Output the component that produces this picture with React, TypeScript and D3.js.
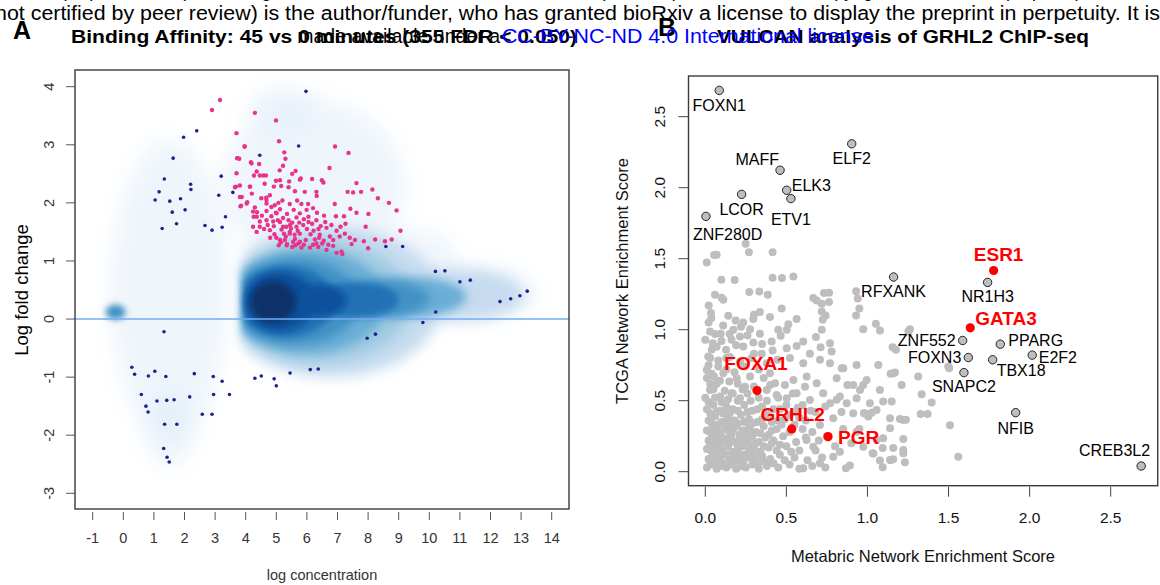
import React, { useEffect, useRef } from 'react';
import * as d3 from 'd3';

// ---------- Panel A: MA plot (log concentration vs log fold change) ----------
const maXTicks = d3.range(-1, 15);
const maYTicks = d3.range(-3, 5);

// significant sites (FDR < 0.05), pink
const sigSites: [number, number][] = [
  [3.16, 3.77], [2.9, 3.6], [4.3, 3.55], [4.99, 3.42], [3.7, 3.2], [5.09, 3.06], [3.96, 2.97], [6.92, 2.97],
  [7.36, 2.86], [5.26, 2.87], [5.3, 2.76], [3.72, 2.77], [3.79, 2.76], [4.17, 2.7], [4.44, 2.67], [5.22, 2.64],
  [5.11, 2.56], [6.74, 2.6], [5.63, 2.55], [5.52, 2.5], [3.7, 2.51], [5.77, 2.4], [5.8, 2.42], [6.17, 2.41],
  [4.27, 2.47], [4.46, 2.47], [4.66, 2.47], [4.99, 2.38], [5.12, 2.39], [5.42, 2.37], [6.49, 2.39], [6.54, 2.35],
  [7.62, 2.34], [8.14, 2.23], [7.77, 2.19], [7.33, 2.19], [7.51, 2.18], [3.65, 2.27], [3.81, 2.3], [4.14, 2.28],
  [4.62, 2.33], [4.92, 2.28], [5.16, 2.29], [5.4, 2.27], [5.61, 2.2], [5.93, 2.19], [6.31, 2.19], [6.32, 2.12],
  [8.32, 2.08], [8.68, 2.0], [8.93, 1.87], [3.87, 2.1], [4.2, 2.16], [4.51, 2.08], [4.67, 2.09], [4.79, 2.13],
  [3.83, 1.94], [4.05, 2.01], [4.3, 1.92], [4.68, 1.99], [4.95, 1.96], [5.07, 2.0], [5.2, 2.04], [5.44, 1.98],
  [5.68, 2.04], [5.82, 1.98], [6.04, 1.98], [6.33, 1.83], [6.56, 1.78], [6.91, 1.98], [6.95, 1.77], [7.21, 1.77],
  [7.42, 1.9], [7.62, 1.83], [8.01, 1.81], [7.26, 1.64], [4.26, 1.76], [4.37, 1.84], [4.53, 1.78], [4.68, 1.7],
  [4.84, 1.77], [4.99, 1.83], [5.12, 1.67], [5.22, 1.74], [5.35, 1.81], [5.52, 1.66], [5.66, 1.75], [5.77, 1.82],
  [5.9, 1.72], [6.05, 1.76], [6.17, 1.64], [6.31, 1.7], [6.45, 1.6], [6.64, 1.57], [6.8, 1.62], [6.97, 1.52],
  [7.1, 1.59], [7.24, 1.47], [7.4, 1.4], [7.57, 1.36], [7.86, 1.34], [7.92, 1.59], [8.23, 1.37], [8.55, 1.34],
  [8.77, 1.37], [9.06, 1.52], [5.08, 1.27], [5.35, 1.29], [5.62, 1.27], [5.82, 1.23], [6.1, 1.23], [6.37, 1.24],
  [6.64, 1.19], [6.86, 1.26], [7.13, 1.16], [4.46, 1.59], [4.79, 1.53], [4.94, 1.46], [5.17, 1.54], [5.31, 1.42],
  [5.44, 1.5], [5.61, 1.38], [5.77, 1.47], [5.96, 1.36], [6.12, 1.46], [6.26, 1.37], [6.42, 1.45], [6.55, 1.35],
  [6.75, 1.42], [4.68, 1.86], [4.92, 1.6], [5.33, 1.59], [5.66, 1.59], [5.12, 1.89], [5.57, 1.88], [5.99, 1.88],
  [6.2, 1.91], [4.46, 1.68], [4.24, 1.59], [4.36, 1.5], [5.12, 1.36], [5.77, 1.33], [6.31, 1.3], [6.86, 1.36],
  [7.07, 1.42], [6.97, 1.14], [7.16, 1.12], [8.0, 1.22], [7.46, 1.29], [3.97, 2.97], [3.73, 2.77], [3.68, 2.28],
  [3.81, 2.1], [3.85, 1.95], [4.19, 2.68], [4.36, 2.54], [4.14, 2.28], [4.57, 2.47], [4.03, 1.99], [4.24, 1.85],
  [4.36, 1.76], [4.68, 2.05], [4.84, 1.93], [5.01, 1.82], [5.22, 1.59], [5.44, 1.47], [5.55, 1.33], [5.34, 1.27],
  [5.0, 1.4], [5.25, 1.47], [5.48, 1.56], [5.7, 1.52], [5.88, 1.62], [6.0, 1.55], [6.22, 1.52], [6.38, 1.55],
  [5.05, 1.7], [5.4, 1.7], [5.6, 1.45], [5.9, 1.28], [6.5, 1.3], [6.7, 1.28], [4.8, 1.4], [4.6, 1.55],
  [5.15, 1.32], [6.05, 1.67], [6.6, 1.67], [5.45, 1.62], [5.28, 1.36], [5.52, 1.24], [5.72, 1.3], [6.2, 1.28],
  [4.9, 1.68], [5.75, 1.66], [6.4, 1.4], [4.72, 1.62],
];

// outlying non-significant sites drawn over the smoothed density, navy
const outlierSites: [number, number][] = [
  [2.4, 3.24], [1.97, 3.13], [1.63, 2.77], [1.34, 2.41], [1.17, 2.19], [1.04, 2.05], [1.52, 2.03], [1.87, 2.07],
  [2.2, 2.32], [2.21, 2.23], [1.6, 1.84], [2.02, 1.88], [1.74, 1.64], [1.27, 1.56], [2.67, 1.61], [2.9, 1.53],
  [3.23, 1.58], [3.34, 1.76], [3.12, 2.13], [3.2, 2.46], [3.58, 2.18], [4.46, 2.82], [5.73, 2.98], [5.97, 3.92],
  [8.58, 1.25], [9.13, 1.25], [10.2, 0.82], [10.51, 0.83], [11.0, 0.64], [11.34, 0.67], [12.31, 0.3], [12.66, 0.35],
  [12.96, 0.4], [13.2, 0.48], [10.21, 0.12], [9.79, -0.06], [7.97, -0.33], [8.24, -0.26], [4.3, -1.02], [4.51, -0.98],
  [4.93, -1.03], [5.0, -1.15], [5.45, -0.93], [6.11, -0.87], [6.37, -0.86], [1.33, -0.22], [0.28, -0.83], [0.37, -0.95],
  [0.82, -0.98], [1.03, -0.9], [1.39, -0.99], [2.32, -0.94], [2.94, -0.99], [3.23, -1.07], [0.59, -1.3], [0.74, -1.5],
  [0.81, -1.6], [1.1, -1.41], [1.42, -1.4], [1.66, -1.39], [2.17, -1.34], [2.95, -1.3], [3.47, -1.3], [2.58, -1.64],
  [2.9, -1.64], [1.35, -1.81], [1.75, -1.81], [1.32, -2.23], [1.43, -2.38], [1.5, -2.46],
];

// smoothed density of all sites: [x, y, spreadX, spreadY, Blues shade, starts at concentration cut-off]
const densityBlobs: [number, number, number, number, number, boolean][] = [
  [1.5, 0.5, 1.9, 2.6, 1, false],
  [1.5, -1.9, 0.8, 0.65, 1, false],
  [6.2, 2.3, 3.0, 1.45, 1, false],
  [5.2, 3.6, 1.1, 0.4, 1, false],
  [11.6, 0.45, 1.9, 0.45, 1, false],
  [9.5, 1.0, 1.4, 0.55, 1, false],
  [6.8, 0.3, 3.6, 1.3, 2, true],
  [10.8, 0.42, 2.3, 0.45, 2, true],
  [6.4, 0.3, 3.0, 1.05, 3, true],
  [6.0, 0.3, 2.6, 0.9, 4, true],
  [9.3, 0.38, 1.9, 0.35, 4, true],
  [5.6, 0.3, 2.1, 0.75, 5, true],
  [8.3, 0.35, 1.7, 0.32, 5, true],
  [-0.25, 0.12, 0.33, 0.13, 5, false],
  [5.3, 0.3, 1.6, 0.62, 6, true],
  [7.6, 0.33, 1.4, 0.3, 6, true],
  [5.1, 0.3, 1.15, 0.52, 7, true],
  [6.4, 0.32, 0.9, 0.28, 7, true],
  [4.9, 0.3, 0.75, 0.36, 8, true],
];
const concentrationCutoff = 3.95;

// ---------- Panel B: VULCAN enrichment ----------
const enrichTicks = [0, 0.5, 1, 1.5, 2, 2.5];

const geneNames = ['FOXN1', 'ELF2', 'MAFF', 'ELK3', 'ETV1', 'LCOR', 'ZNF280D', 'RFXANK', 'ESR1', 'NR1H3', 'GATA3',
  'ZNF552', 'FOXN3', 'SNAPC2', 'PPARG', 'TBX18', 'E2F2', 'NFIB', 'CREB3L2', 'FOXA1', 'GRHL2', 'PGR'];
const geneMetabric = [0.086, 0.903, 0.461, 0.502, 0.528, 0.224, 0.004, 1.161, 1.778, 1.741, 1.634,
  1.587, 1.622, 1.595, 1.819, 1.772, 2.016, 1.914, 2.688, 0.319, 0.533, 0.757];
const geneTcga = [2.685, 2.309, 2.123, 1.982, 1.923, 1.953, 1.798, 1.371, 1.417, 1.333, 1.013,
  0.924, 0.804, 0.698, 0.898, 0.788, 0.821, 0.416, 0.04, 0.571, 0.301, 0.247];
const highlightGenes = ['ESR1', 'GATA3', 'FOXA1', 'GRHL2', 'PGR'];

// other transcription factors [metabric, tcga]
const otherTFs: [number, number][] = [
  [0.009, 1.474], [0.054, 1.526], [0.07, 1.528], [0.249, 1.605], [0.269, 1.545], [0.415, 1.545], [0.099, 1.352],
  [0.181, 1.35], [0.415, 1.366], [0.473, 1.364], [0.543, 1.375], [0.06, 1.246], [0.111, 1.211], [0.101, 1.225],
  [0.021, 1.171], [0.271, 1.265], [0.333, 1.269], [0.385, 1.246], [0.666, 1.223], [0.687, 1.206], [0.732, 1.258],
  [0.763, 1.26], [0.763, 1.195], [0.718, 1.183], [0.035, 1.117], [0.142, 1.098], [0.3, 1.105], [0.337, 1.124],
  [0.471, 1.15], [0.718, 1.128], [0.037, 1.082], [0.187, 1.065], [0.234, 1.051], [0.296, 1.075], [0.399, 1.089],
  [0.502, 0.999], [0.512, 1.039], [0.563, 1.075], [0.724, 1.07], [0.742, 1.1], [0.45, 0.999], [0.029, 0.987],
  [0.095, 0.971], [0.173, 0.999], [0.214, 0.952], [0.276, 1.004], [0.337, 0.971], [0.409, 0.917], [0.465, 0.957],
  [0.604, 0.917], [0.769, 0.905], [0.718, 0.999], [0.682, 0.948], [0.974, 1.004], [1.077, 0.994], [1.052, 1.042],
  [1.155, 0.877], [1.252, 0.987], [1.262, 1.004], [0.046, 0.905], [0.128, 0.858], [0.162, 0.929], [0.234, 0.882],
  [0.296, 0.91], [0.348, 0.83], [0.415, 0.853], [0.502, 0.87], [0.563, 0.886], [0.645, 0.83], [0.711, 0.877],
  [0.779, 0.846], [0.018, 0.811], [0.08, 0.783], [0.152, 0.807], [0.214, 0.776], [0.286, 0.8], [0.379, 0.764],
  [0.444, 0.788], [0.522, 0.8], [0.604, 0.764], [0.707, 0.788], [0.769, 0.764], [0.851, 0.729], [0.933, 0.752],
  [1.067, 0.752], [1.159, 0.694], [1.313, 0.67], [1.211, 0.611], [1.077, 0.576], [0.974, 0.611], [0.009, 0.717],
  [0.054, 0.67], [0.111, 0.694], [0.148, 0.635], [0.194, 0.658], [0.245, 0.599], [0.276, 0.67], [0.399, 0.694],
  [0.43, 0.623], [0.491, 0.611], [0.543, 0.646], [0.625, 0.67], [0.615, 0.599], [0.687, 0.623], [0.81, 0.658],
  [0.912, 0.611], [0.954, 0.576], [0.029, 0.576], [0.091, 0.529], [0.163, 0.552], [0.214, 0.517], [0.379, 0.576],
  [0.44, 0.541], [0.502, 0.517], [0.563, 0.552], [0.645, 0.505], [0.727, 0.552], [0.769, 0.482], [0.83, 0.529],
  [0.872, 0.482], [0.933, 0.517], [1.015, 0.482], [1.056, 0.435], [0.984, 0.412], [1.097, 0.494], [1.139, 0.376],
  [1.221, 0.364], [1.139, 0.306], [1.097, 0.235], [1.221, 0.153], [1.139, 0.082], [1.143, 0.689], [1.17, 0.698],
  [1.334, 0.546], [1.149, 0.494], [1.396, 0.487], [1.504, 0.729], [1.498, 0.741], [0.978, 0.412], [1.026, 0.416],
  [1.005, 0.388], [1.2, 0.372], [1.237, 0.365], [1.328, 0.407], [1.371, 0.407], [1.509, 0.327], [1.221, 0.231],
  [1.094, 0.167], [1.159, 0.167], [1.032, 0.13], [1.077, 0.078], [1.143, 0.082], [1.159, 0.087], [1.221, 0.13],
  [1.231, 0.066], [1.094, 0.031], [1.56, 0.106], [0.93, 1.27], [0.94, 1.22], [0.95, 1.15], [0.93, 1.1],
  [0.867, 0.024], [0.892, 0.043], [0.974, 0.176], [1.036, 0.129], [1.057, 0.223], [0.933, 0.282], [0.83, 0.141],
  [0.789, 0.106], [0.707, 0.059], [0.604, 0.024], [0.666, 0.176], [0.625, 0.223], [0.707, 0.329], [0.789, 0.376],
  [0.912, 0.411], [0.81, 0.506], [0.876, 0.611], [0.995, 0.646], [0.841, 0.729], [1.176, 0.858],
  [0.01, 0.03], [0.04, 0.05], [0.07, 0.02], [0.1, 0.04], [0.13, 0.03], [0.16, 0.05], [0.19, 0.02], [0.22, 0.04],
  [0.25, 0.03], [0.29, 0.05], [0.33, 0.02], [0.38, 0.04], [0.45, 0.03], [0.52, 0.05], [0.58, 0.02], [0.66, 0.04],
  [0.74, 0.03], [0.02, 0.09], [0.05, 0.11], [0.09, 0.08], [0.12, 0.12], [0.15, 0.09], [0.18, 0.11], [0.21, 0.08],
  [0.24, 0.12], [0.27, 0.1], [0.31, 0.08], [0.35, 0.11], [0.4, 0.09], [0.46, 0.12], [0.55, 0.1], [0.63, 0.08],
  [0.01, 0.16], [0.04, 0.14], [0.07, 0.17], [0.11, 0.15], [0.14, 0.18], [0.17, 0.14], [0.2, 0.16], [0.23, 0.18],
  [0.27, 0.15], [0.3, 0.17], [0.34, 0.14], [0.39, 0.17], [0.44, 0.15], [0.5, 0.18], [0.58, 0.15], [0.02, 0.22],
  [0.06, 0.24], [0.09, 0.21], [0.12, 0.23], [0.16, 0.25], [0.19, 0.21], [0.22, 0.24], [0.26, 0.22], [0.29, 0.25],
  [0.33, 0.21], [0.37, 0.24], [0.42, 0.22], [0.48, 0.25], [0.56, 0.21], [0.62, 0.24], [0.7, 0.22], [0.01, 0.29],
  [0.05, 0.31], [0.08, 0.28], [0.12, 0.3], [0.15, 0.27], [0.19, 0.32], [0.23, 0.29], [0.27, 0.31], [0.31, 0.28],
  [0.36, 0.32], [0.41, 0.29], [0.47, 0.33], [0.6, 0.3], [0.66, 0.28], [0.02, 0.36], [0.06, 0.39], [0.1, 0.35],
  [0.14, 0.38], [0.18, 0.36], [0.22, 0.4], [0.27, 0.37], [0.32, 0.35], [0.38, 0.39], [0.45, 0.36], [0.52, 0.4],
  [0.58, 0.38], [0.01, 0.44], [0.05, 0.47], [0.09, 0.43], [0.13, 0.46], [0.17, 0.44], [0.24, 0.47], [0.29, 0.43],
  [0.35, 0.46], [0.42, 0.44], [0.5, 0.47], [0.57, 0.45], [0.65, 0.43], [0.0, 0.52], [0.03, 0.62], [0.01, 0.66],
  [0.05, 0.58], [0.02, 0.75], [0.04, 0.86], [0.0, 0.93], [0.07, 0.62], [0.08, 0.74], [0.12, 0.57], [0.1, 0.49],
  [0.2, 0.5], [0.26, 0.55], [0.33, 0.52], [0.3, 0.6], [0.36, 0.66], [0.18, 0.7], [0.24, 0.74], [0.13, 0.8],
  [0.06, 0.97], [0.19, 0.89], [0.11, 1.03], [0.26, 0.96], [0.35, 0.9], [0.3, 0.83],
  [0.03, 0.07], [0.06, 0.06], [0.09, 0.13], [0.115, 0.06], [0.145, 0.12], [0.175, 0.07], [0.205, 0.13], [0.235, 0.07],
  [0.265, 0.13], [0.3, 0.12], [0.32, 0.06], [0.36, 0.07], [0.42, 0.06], [0.49, 0.08], [0.03, 0.19], [0.055, 0.2],
  [0.085, 0.19], [0.13, 0.2], [0.16, 0.21], [0.2, 0.19], [0.245, 0.2], [0.28, 0.19], [0.31, 0.2], [0.36, 0.18],
  [0.41, 0.2], [0.46, 0.19], [0.53, 0.14], [0.035, 0.27], [0.07, 0.26], [0.1, 0.25], [0.14, 0.31], [0.17, 0.29],
  [0.21, 0.26], [0.25, 0.27], [0.28, 0.28], [0.34, 0.27], [0.39, 0.26], [0.44, 0.3], [0.52, 0.28], [0.55, 0.33],
  [0.04, 0.34], [0.08, 0.33], [0.12, 0.35], [0.16, 0.33], [0.2, 0.34], [0.24, 0.35], [0.29, 0.34], [0.35, 0.37],
  [0.41, 0.35], [0.49, 0.37], [0.55, 0.42], [0.62, 0.36], [0.03, 0.41], [0.07, 0.42], [0.11, 0.41], [0.15, 0.41],
  [0.2, 0.43], [0.26, 0.42], [0.32, 0.44], [0.39, 0.42], [0.46, 0.44], [0.6, 0.47], [0.02, 0.49], [0.06, 0.52],
  [0.14, 0.51], [0.17, 0.55], [0.23, 0.58], [0.28, 0.5], [0.38, 0.5], [0.45, 0.52], [0.54, 0.55], [0.04, 0.69],
  [0.13, 0.72], [0.09, 0.64], [0.2, 0.62], [0.33, 0.72], [0.4, 0.61], [0.03, 0.8], [0.07, 0.88], [0.1, 0.92],
  [0.15, 0.97], [0.22, 1.02], [0.02, 1.05], [0.68, 0.15], [0.72, 0.1], [0.8, 0.18], [0.75, 0.25], [0.85, 0.3],
  [0.9, 0.2], [0.68, 0.42], [0.74, 0.46], [0.84, 0.42], [0.95, 0.3],
];

const font = '"Liberation Sans", Arial, Helvetica, sans-serif';

// label placement next to each gene point: [anchor, dx, dy] in px
const labelPlace: Record<string, [string, number, number]> = {
  FOXN1: ['middle', 0, 15], ELF2: ['middle', 0, 15], MAFF: ['end', -1, -11], ELK3: ['start', 5, -5],
  ETV1: ['middle', 0, 21], LCOR: ['middle', 0, 15], ZNF280D: ['start', -13, 18], RFXANK: ['middle', 0, 14.5],
  ESR1: ['middle', 5, -16], NR1H3: ['middle', 0, 14.5], GATA3: ['start', 5, -9], ZNF552: ['end', -7, 0],
  FOXN3: ['end', -7, 0], SNAPC2: ['middle', 0, 14], PPARG: ['start', 8, -3.5], TBX18: ['start', 4, 11],
  E2F2: ['start', 6.5, 2], NFIB: ['middle', 0, 15.5], CREB3L2: ['end', 9, -16], FOXA1: ['middle', -1, -27],
  GRHL2: ['middle', 1, -14], PGR: ['start', 10, 0.5],
};

export default function App() {
  const svgRef = useRef<SVGSVGElement>(null);

  useEffect(() => {
    const svg = d3.select(svgRef.current);
    svg.selectAll('*').remove();
    const defs = svg.append('defs');

    // blur filters for the density layers
    [3, 5, 7, 11].forEach(s => {
      defs.append('filter')
        .attr('id', `blur${s}`)
        .attr('x', '-50%').attr('y', '-50%')
        .attr('width', '200%').attr('height', '200%')
        .append('feGaussianBlur')
        .attr('stdDeviation', s);
    });

    // ---- header text (preprint watermark overlapping the titles) ----
    const head = svg.append('g').style('font-family', font);
    head.append('text')
      .attr('x', 0).attr('y', -3)
      .attr('textLength', 1160).attr('lengthAdjust', 'spacingAndGlyphs')
      .style('font-size', '19.5px').attr('fill', '#000')
      .text('bioRxiv preprint doi: https://doi.org/10.1101/2020.04.09.034611; this version posted April 10, 2020. The copyright holder for this preprint (which was');
    head.append('text')
      .attr('x', -5).attr('y', 20)
      .attr('textLength', 1165).attr('lengthAdjust', 'spacingAndGlyphs')
      .style('font-size', '19.5px').attr('fill', '#000')
      .text('not certified by peer review) is the author/funder, who has granted bioRxiv a license to display the preprint in perpetuity. It is');

    head.append('text')
      .attr('x', 13).attr('y', 39)
      .style('font-size', '25px').style('font-weight', 'bold')
      .text('A');
    head.append('text')
      .attr('x', 658).attr('y', 36)
      .style('font-size', '25px').style('font-weight', 'bold')
      .text('B');
    head.append('text')
      .attr('x', 13).attr('y', 603)
      .style('font-size', '25px').style('font-weight', 'bold')
      .text('C');

    head.append('text')
      .attr('x', 71).attr('y', 43)
      .attr('textLength', 506).attr('lengthAdjust', 'spacingAndGlyphs')
      .style('font-size', '18px').style('font-weight', 'bold')
      .text('Binding Affinity: 45 vs 0 minutes (355 FDR < 0.050)');
    head.append('text')
      .attr('x', 717).attr('y', 43)
      .attr('textLength', 372).attr('lengthAdjust', 'spacingAndGlyphs')
      .style('font-size', '18px').style('font-weight', 'bold')
      .text('VULCAN analysis of GRHL2 ChIP-seq');

    head.append('text')
      .attr('x', 500).attr('y', 43).attr('text-anchor', 'end')
      .style('font-size', '19.5px')
      .text('made available under a');
    head.append('text')
      .attr('x', 502).attr('y', 43)
      .attr('textLength', 372).attr('lengthAdjust', 'spacingAndGlyphs')
      .style('font-size', '19.5px').attr('fill', '#0000ff')
      .text('CC-BY-NC-ND 4.0 International license');
    head.append('text')
      .attr('x', 879).attr('y', 43)
      .style('font-size', '19.5px')
      .text('.');

    // ================= Panel A =================
    const boxA = { left: 75, right: 569, top: 70, bottom: 509 };
    const xA = d3.scaleLinear().domain([-1, 14]).range([92.7, 551.7]);
    const yA = d3.scaleLinear().domain([-3, 4]).range([493.3, 86.7]);

    defs.append('clipPath').attr('id', 'clipA')
      .append('rect')
      .attr('x', boxA.left).attr('y', boxA.top)
      .attr('width', boxA.right - boxA.left).attr('height', boxA.bottom - boxA.top);
    defs.append('clipPath').attr('id', 'cutA')
      .append('rect')
      .attr('x', xA(concentrationCutoff)).attr('y', boxA.top - 50)
      .attr('width', boxA.right - xA(concentrationCutoff) + 50).attr('height', boxA.bottom - boxA.top + 100);

    const blues = d3.schemeBlues[9];
    const blurFor = (shade: number, cut: boolean) =>
      (!cut && shade > 1 ? 3 : shade <= 1 ? 11 : shade <= 3 ? 7 : shade <= 5 ? 5 : 3);

    const dens = svg.append('g').attr('clip-path', 'url(#clipA)');
    densityBlobs.forEach(([cx, cy, sx, sy, shade, cut]) => {
      const layer = dens.append('g').attr('filter', `url(#blur${blurFor(shade, cut)})`);
      const inner = cut ? layer.append('g').attr('clip-path', 'url(#cutA)') : layer;
      inner.append('ellipse')
        .attr('cx', xA(cx)).attr('cy', yA(cy))
        .attr('rx', xA(cx + sx) - xA(cx))
        .attr('ry', yA(cy) - yA(cy + sy))
        .attr('fill', blues[shade])
        .attr('opacity', shade <= 1 ? 0.5 : 1);
    });

    // zero line
    svg.append('line')
      .attr('x1', boxA.left).attr('x2', boxA.right)
      .attr('y1', yA(0)).attr('y2', yA(0))
      .attr('stroke', '#74adf2').attr('stroke-width', 1.5);

    const ptsA = svg.append('g').attr('clip-path', 'url(#clipA)');
    ptsA.selectAll('circle.out')
      .data(outlierSites)
      .enter().append('circle')
      .attr('class', 'out')
      .attr('cx', d => xA(d[0])).attr('cy', d => yA(d[1]))
      .attr('r', 1.8).attr('fill', '#231f8f');
    ptsA.selectAll('circle.sig')
      .data(sigSites)
      .enter().append('circle')
      .attr('class', 'sig')
      .attr('cx', d => xA(d[0])).attr('cy', d => yA(d[1]))
      .attr('r', 2.2).attr('fill', '#e8338b');

    // frame + axes
    svg.append('rect')
      .attr('x', boxA.left).attr('y', boxA.top)
      .attr('width', boxA.right - boxA.left).attr('height', boxA.bottom - boxA.top)
      .attr('fill', 'none').attr('stroke', '#3a3a3a').attr('stroke-width', 1.4);

    const axA = svg.append('g').style('font-family', font).attr('fill', '#333');
    axA.selectAll('line.xt').data(maXTicks).enter().append('line')
      .attr('x1', d => xA(d)).attr('x2', d => xA(d))
      .attr('y1', boxA.bottom + 3).attr('y2', boxA.bottom + 11)
      .attr('stroke', '#555').attr('stroke-width', 1);
    axA.selectAll('text.xt').data(maXTicks).enter().append('text')
      .attr('x', d => xA(d)).attr('y', 538)
      .attr('text-anchor', 'middle').attr('dominant-baseline', 'central')
      .style('font-size', '14.5px')
      .text(d => d);
    axA.selectAll('line.yt').data(maYTicks).enter().append('line')
      .attr('x1', boxA.left - 9).attr('x2', boxA.left)
      .attr('y1', d => yA(d)).attr('y2', d => yA(d))
      .attr('stroke', '#555').attr('stroke-width', 1);
    axA.selectAll('text.yt').data(maYTicks).enter().append('text')
      .attr('x', 49).attr('y', d => yA(d))
      .attr('transform', d => `rotate(-90, 49, ${yA(d)})`)
      .attr('text-anchor', 'middle').attr('dominant-baseline', 'central')
      .style('font-size', '14.5px')
      .text(d => d);
    axA.append('text')
      .attr('x', 21).attr('y', 290)
      .attr('transform', 'rotate(-90, 21, 290)')
      .attr('text-anchor', 'middle').attr('dominant-baseline', 'central')
      .attr('fill', '#000')
      .style('font-size', '18.5px')
      .text('Log fold change');
    axA.append('text')
      .attr('x', 322).attr('y', 575)
      .attr('text-anchor', 'middle').attr('dominant-baseline', 'central')
      .style('font-size', '14.5px')
      .text('log concentration');

    // ================= Panel B =================
    const boxB = { left: 688.5, right: 1157.7, top: 76, bottom: 485.7 };
    const xB = d3.scaleLinear().domain([0, 2.5]).range([705.3, 1110.7]);
    const yB = d3.scaleLinear().domain([0, 2.5]).range([471.7, 116.7]);
    const fmt = d3.format('.1f');

    svg.append('g').selectAll('circle')
      .data(otherTFs)
      .enter().append('circle')
      .attr('cx', d => xB(d[0])).attr('cy', d => yB(d[1]))
      .attr('r', 4).attr('fill', '#bebebe');

    const genes = geneNames.map((name, i) => ({
      name, x: geneMetabric[i], y: geneTcga[i], hi: highlightGenes.includes(name),
    }));

    const gG = svg.append('g').style('font-family', font);
    gG.selectAll('circle')
      .data(genes)
      .enter().append('circle')
      .attr('cx', d => xB(d.x)).attr('cy', d => yB(d.y))
      .attr('r', d => (d.hi ? 4.6 : 4.2))
      .attr('fill', d => (d.hi ? '#ff0000' : '#bebebe'))
      .attr('stroke', d => (d.hi ? 'none' : '#222'))
      .attr('stroke-width', 1);
    gG.selectAll('text')
      .data(genes)
      .enter().append('text')
      .attr('x', d => xB(d.x) + labelPlace[d.name][1])
      .attr('y', d => yB(d.y) + labelPlace[d.name][2])
      .attr('text-anchor', d => labelPlace[d.name][0])
      .attr('dominant-baseline', 'central')
      .attr('fill', d => (d.hi ? '#ff0000' : '#000'))
      .style('font-weight', d => (d.hi ? 'bold' : 'normal'))
      .style('font-size', d => (d.hi ? '19px' : '16px'))
      .text(d => d.name);

    svg.append('rect')
      .attr('x', boxB.left).attr('y', boxB.top)
      .attr('width', boxB.right - boxB.left).attr('height', boxB.bottom - boxB.top)
      .attr('fill', 'none').attr('stroke', '#3a3a3a').attr('stroke-width', 1.4);

    const axB = svg.append('g').style('font-family', font).attr('fill', '#111');
    axB.selectAll('line.xt').data(enrichTicks).enter().append('line')
      .attr('x1', d => xB(d)).attr('x2', d => xB(d))
      .attr('y1', boxB.bottom + 1).attr('y2', boxB.bottom + 11)
      .attr('stroke', '#444');
    axB.selectAll('text.xt').data(enrichTicks).enter().append('text')
      .attr('x', d => xB(d)).attr('y', 517)
      .attr('text-anchor', 'middle').attr('dominant-baseline', 'central')
      .style('font-size', '15.5px')
      .text(d => fmt(d));
    axB.selectAll('line.yt').data(enrichTicks).enter().append('line')
      .attr('x1', boxB.left - 10).attr('x2', boxB.left)
      .attr('y1', d => yB(d)).attr('y2', d => yB(d))
      .attr('stroke', '#444');
    axB.selectAll('text.yt').data(enrichTicks).enter().append('text')
      .attr('x', 660).attr('y', d => yB(d))
      .attr('transform', d => `rotate(-90, 660, ${yB(d)})`)
      .attr('text-anchor', 'middle').attr('dominant-baseline', 'central')
      .style('font-size', '15.5px')
      .text(d => fmt(d));
    axB.append('text')
      .attr('x', 622).attr('y', 281)
      .attr('transform', 'rotate(-90, 622, 281)')
      .attr('text-anchor', 'middle').attr('dominant-baseline', 'central')
      .style('font-size', '16.5px')
      .text('TCGA Network Enrichment Score');
    axB.append('text')
      .attr('x', 923).attr('y', 556)
      .attr('text-anchor', 'middle').attr('dominant-baseline', 'central')
      .style('font-size', '16.5px')
      .text('Metabric Network Enrichment Score');
  }, []);

  return (
    <svg
      ref={svgRef}
      width={1160}
      height={585}
      style={{ position: 'absolute', left: 0, top: 0, background: '#fff' }}
    />
  );
}
